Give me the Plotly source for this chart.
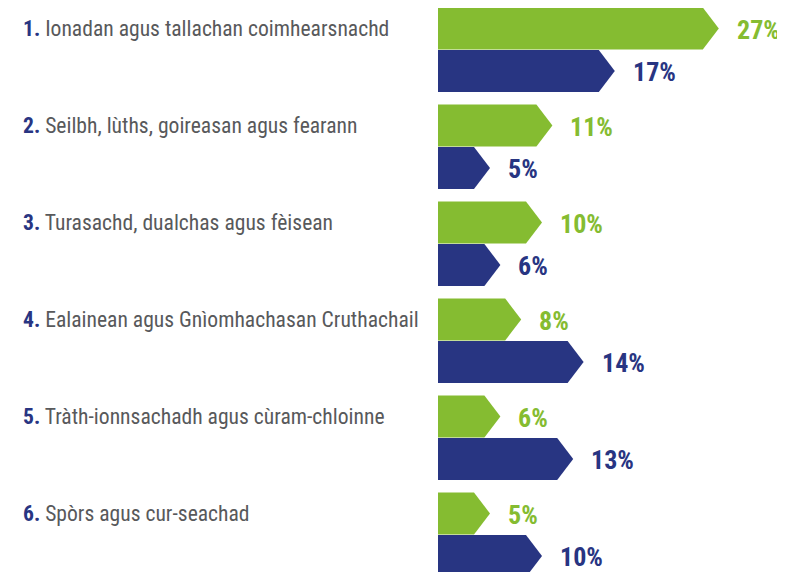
import plotly.graph_objects as go

numbers = ["1.", "2.", "3.", "4.", "5.", "6."]
categories = [
    "Ionadan agus tallachan coimhearsnachd",
    "Seilbh, lùths, goireasan agus fearann",
    "Turasachd, dualchas agus fèisean",
    "Ealainean agus Gnìomhachasan Cruthachail",
    "Tràth-ionnsachadh agus cùram-chloinne",
    "Spòrs agus cur-seachad",
]
green_values = [27, 11, 10, 8, 6, 5]
navy_values = [17, 5, 6, 14, 13, 10]

GREEN = "#85bc31"
NAVY = "#283582"
GRAY = "#58595b"
FONT = "Roboto Condensed, Liberation Sans Narrow, sans-serif"

OFF = 8                      # page body margin in the browser
W, H = 785 - OFF, 572 - OFF
px_per_unit = 10.4           # pixels per percentage point
x0_px = 438 - OFF            # pixel position of zero inside the figure
group_px = 97.0              # vertical spacing of groups
first_center_px = 28.5 - OFF
pair_offset = 42.5 / group_px    # navy centre offset (in group units)
half_h = 21.0 / group_px         # half bar height (in group units)
tip = 16.0 / px_per_unit         # arrow tip depth (in % units)

fig = go.Figure()

def arrow(value, centre, color):
    xs = [0, value - tip, value, value - tip, 0, 0]
    ys = [centre - half_h, centre - half_h, centre, centre + half_h, centre + half_h, centre - half_h]
    fig.add_trace(go.Scatter(x=xs, y=ys, mode="lines", fill="toself", fillcolor=color,
                             line=dict(width=0, color=color), hoverinfo="skip", showlegend=False))

annotations = []
for i, (num, cat, g, n) in enumerate(zip(numbers, categories, green_values, navy_values)):
    cg = i
    cn = i + pair_offset
    arrow(g, cg, GREEN)
    arrow(n, cn, NAVY)
    annotations.append(dict(x=g, y=cg, text=f"<b>{g}%</b>", xanchor="left", yanchor="middle",
                            xshift=16, yshift=-1, showarrow=False, font=dict(family=FONT, size=26, color=GREEN)))
    annotations.append(dict(x=n, y=cn, text=f"<b>{n}%</b>", xanchor="left", yanchor="middle",
                            xshift=16, yshift=-1, showarrow=False, font=dict(family=FONT, size=26, color=NAVY)))
    annotations.append(dict(x=(21 - OFF - x0_px) / px_per_unit, y=cg,
                            text=f"<b><span style='color:{NAVY}'>{num}</span></b> {cat}",
                            xanchor="left", yanchor="middle", showarrow=False,
                            font=dict(family=FONT, size=21.6, color=GRAY)))

fig.update_layout(
    width=W, height=H,
    margin=dict(l=0, r=0, t=0, b=0),
    paper_bgcolor="white", plot_bgcolor="white",
    xaxis=dict(range=[-x0_px / px_per_unit, (W - x0_px) / px_per_unit], visible=False, fixedrange=True),
    yaxis=dict(range=[(H - first_center_px) / group_px, -first_center_px / group_px], visible=False, fixedrange=True),
    annotations=annotations,
)

fig.write_html("out.html")
